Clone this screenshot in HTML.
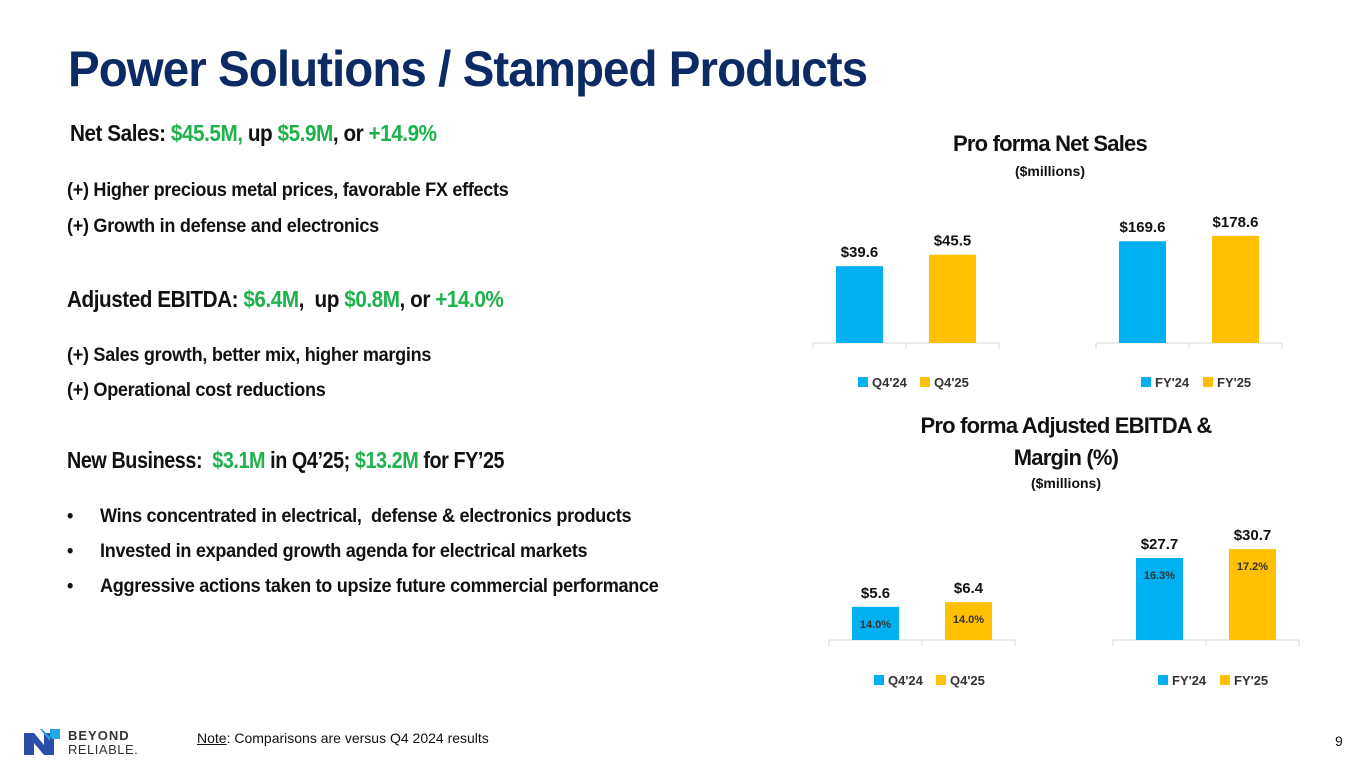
<!DOCTYPE html>
<html><head><meta charset="utf-8">
<style>
body{margin:0;width:1365px;height:768px;background:#fff;position:relative;overflow:hidden;font-family:"Liberation Sans",sans-serif;}
.a{position:absolute;white-space:nowrap;transform-origin:0 0;}
.navy{color:#0c2a63}
.g{color:#1db24b}
.h{font-weight:bold;font-size:23px;color:#111;letter-spacing:-0.5px}
.b{font-size:19px;color:#111;font-weight:bold;letter-spacing:-0.3px;transform:scaleX(0.95)}
svg text{font-family:"Liberation Sans",sans-serif;}
</style></head><body>
<div class="a navy" style="left:68px;top:40px;font-size:50px;font-weight:bold;letter-spacing:-1px;transform:scaleX(0.95)">Power Solutions / Stamped Products</div>

<div class="a h" style="left:70px;top:120px;transform:scaleX(0.9)">Net Sales: <span class="g">$45.5M,</span> up <span class="g">$5.9M</span>, or <span class="g">+14.9%</span></div>
<div class="a b" style="left:67px;top:180px">(+) Higher precious metal prices, favorable FX effects</div>
<div class="a b" style="left:67px;top:216px">(+) Growth in defense and electronics</div>

<div class="a h" style="left:67px;top:286px;transform:scaleX(0.9)">Adjusted EBITDA: <span class="g">$6.4M</span>,&nbsp; up <span class="g">$0.8M</span>, or <span class="g">+14.0%</span></div>
<div class="a b" style="left:67px;top:345px">(+) Sales growth, better mix, higher margins</div>
<div class="a b" style="left:67px;top:380px">(+) Operational cost reductions</div>

<div class="a h" style="left:67px;top:447px;transform:scaleX(0.86)">New Business:&nbsp; <span class="g">$3.1M</span> in Q4’25; <span class="g">$13.2M</span> for FY’25</div>
<div class="a b" style="left:67px;top:506px">•</div>
<div class="a b" style="left:100px;top:506px">Wins concentrated in electrical,&nbsp; defense &amp; electronics products</div>
<div class="a b" style="left:67px;top:541px">•</div>
<div class="a b" style="left:100px;top:541px">Invested in expanded growth agenda for electrical markets</div>
<div class="a b" style="left:67px;top:576px">•</div>
<div class="a b" style="left:100px;top:576px">Aggressive actions taken to upsize future commercial performance</div>

<div class="a" style="left:850px;top:131px;width:400px;text-align:center;font-size:22px;font-weight:bold;color:#111;letter-spacing:-0.8px">Pro forma Net Sales</div>
<div class="a" style="left:850px;top:163px;width:400px;text-align:center;font-size:14px;font-weight:bold;color:#111">($millions)</div>
<div class="a" style="left:866px;top:410px;width:400px;text-align:center;font-size:22px;font-weight:bold;color:#111;letter-spacing:-0.8px;line-height:32px;white-space:normal">Pro forma Adjusted EBITDA &amp;<br>Margin (%)</div>
<div class="a" style="left:866px;top:475px;width:400px;text-align:center;font-size:14px;font-weight:bold;color:#111">($millions)</div>

<svg id="charts" class="a" style="left:0;top:0" width="1365" height="768"></svg>

<svg class="a" style="left:22px;top:727px" width="40" height="30">
<polygon points="2,6 12,6 22,18 22,6 32,6 32,28 22,28 12,16 12,28 2,28" fill="#2b4fa8"/>
<polygon points="8,2 18,2 28,14 28,2 38,2 38,12 30,12 20,2" fill="#23a8e6"/>
</svg>
<div class="a" style="left:68px;top:729px;font-size:13px;line-height:14px;color:#333"><b style="letter-spacing:1px">BEYOND</b><br><span style="letter-spacing:0.5px">RELIABLE.</span></div>
<div class="a" style="left:197px;top:730px;font-size:14px;color:#111"><u>Note</u>: Comparisons are versus Q4 2024 results</div>
<div class="a" style="left:1335px;top:733px;font-size:14px;color:#111">9</div>

<script>
const nsQCats=["Q4'24","Q4'25"];
const nsQVals=[39.6,45.5];
const nsFCats=["FY'24","FY'25"];
const nsFVals=[169.6,178.6];
const ebQCats=["Q4'24","Q4'25"];
const ebQVals=[5.6,6.4];
const ebQMargins=["14.0%","14.0%"];
const ebFCats=["FY'24","FY'25"];
const ebFVals=[27.7,30.7];
const ebFMargins=["16.3%","17.2%"];

const NS='http://www.w3.org/2000/svg';
const svg=document.getElementById('charts');
const colors=['#00b0f0','#ffc000'];
function mk(t,a){const e=document.createElementNS(NS,t);for(const k in a)e.setAttribute(k,a[k]);svg.appendChild(e);return e;}
function chart(name,x0,base,pxPerUnit,cats,vals,margins,legendY){
  const w=186, slot=w/cats.length, bw=47;
  const ax=mk('line',{x1:x0,y1:base,x2:x0+w,y2:base,stroke:'#d9d9d9','stroke-width':1});
  
  
  for(let i=0;i<=cats.length;i++){const t=mk('line',{x1:x0+i*slot,y1:base,x2:x0+i*slot,y2:base+6,stroke:'#d9d9d9'});
    
    }
  vals.forEach((v,i)=>{
    const h=v*pxPerUnit, x=x0+i*slot+(slot-bw)/2;
    const r=mk('rect',{x:x,y:base-h,width:bw,height:h,fill:colors[i]});
    
    
    const t=mk('text',{x:x+bw/2,y:base-h-9,'text-anchor':'middle','font-size':15,'font-weight':'bold',fill:'#111'});
    t.textContent='$'+v.toFixed(1);
    
    
    if(margins){const m=mk('text',{x:x+bw/2,y:base-h+21,'text-anchor':'middle','font-size':11,'font-weight':'bold',fill:'#333'});
      m.textContent=margins[i];
      
      }
  });
  const lx=x0+45;
  cats.forEach((c,i)=>{
    const sx=lx+i*62;
    const s=mk('rect',{x:sx,y:legendY-9,width:10,height:10,fill:colors[i]});
    
    
    const t=mk('text',{x:sx+14,y:legendY+1,'font-size':13,'font-weight':'bold',fill:'#333'});
    t.textContent=c;
    
    
  });
}
chart('net-sales-q4',813,343,1.94,nsQCats,nsQVals,null,386);
chart('net-sales-fy',1096,343,0.6,nsFCats,nsFVals,null,386);
chart('ebitda-q4',829,640,5.92,ebQCats,ebQVals,ebQMargins,684);
chart('ebitda-fy',1113,640,2.96,ebFCats,ebFVals,ebFMargins,684);
</script>
</body></html>
